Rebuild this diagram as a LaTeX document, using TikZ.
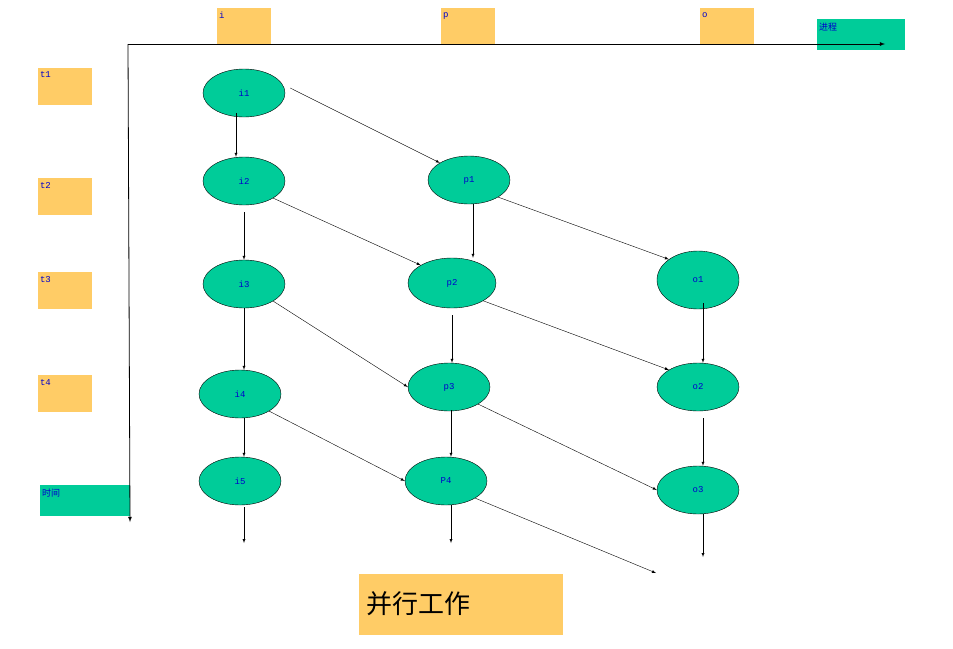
\documentclass[tikz,border=0pt]{standalone}
\usepackage{fontspec}
\setmainfont{Liberation Mono}
\newfontfamily\cjk{Noto Sans CJK SC}
\usetikzlibrary{arrows,positioning,shapes.geometric}
\definecolor{boxorange}{RGB}{255,204,102}
\definecolor{cellgreen}{RGB}{0,204,153}
\definecolor{labelblue}{RGB}{0,0,204}
\tikzset{>=latex,
    tag/.style={fill=boxorange,minimum width=54,minimum height=37,text=labelblue,
                align=left,text depth=22,inner sep=2pt,font=\small},
    gtag/.style={tag,fill=cellgreen,minimum height=31,text depth=14},
    cell/.style={ellipse,draw,fill=cellgreen,minimum width=82,minimum height=48,
                 text=labelblue,font=\small}}

\begin{document}
\begin{tikzpicture}[x=1pt,y=-1pt]
    \useasboundingbox (0,0) rectangle (953,648);
    % axes
    \coordinate (org) at (128,44);
    \coordinate (xend) at (885,44);
    \coordinate (yend) at (130,522);
    % process and time labels
    \node[tag,text width=50] (ti) at (244,26) {i};
    \node[tag,text width=50] (tp) at (468,26) {p};
    \node[tag,text width=50] (to) at (727,26) {o};
    \node[gtag,minimum width=88,text width=84] (tproc) at (861,34) {\cjk 进程};
    \node[tag,text width=50] (t1) at (65,86) {t1};
    \node[tag,text width=50] (t2) at (65,196) {t2};
    \node[tag,text width=50] (t3) at (65,290) {t3};
    \node[tag,text width=50] (t4) at (65,393) {t4};
    \node[gtag,minimum width=90,text width=86] (time) at (85,500) {\cjk 时间};
    \draw[thick,->] (org) -- (xend);
    \draw[thick,->] (org) -- (yend);
    % cells
    \node[cell] (i1) at (244,93) {i1};
    \node[cell] (i2) at (244,181) {i2};
    \node[cell] (i3) at (244,284) {i3};
    \node[cell] (i4) at (240,394) {i4};
    \node[cell] (i5) at (240,481) {i5};
    \node[cell] (p1) at (469,180) {p1};
    \node[cell,minimum width=88,minimum height=50] (p2) at (452,283) {p2};
    \node[cell] (p3) at (449,387) {p3};
    \node[cell] (p4) at (446,481) {P4};
    \node[cell,minimum height=58] (o1) at (698,280) {o1};
    \node[cell] (o2) at (698,387) {o2};
    \node[cell] (o3) at (698,490) {o3};
    \coordinate (i5out) at (244,543);
    \coordinate (p4out) at (451,543);
    \coordinate (p4diag) at (656,573);
    \coordinate (o3out) at (703,557);
    % connectors
    \draw[->] (236,113) -- (i2.north -| 236,0);
    \draw[->] (i1.east) ++(5,-5) -- (p1.north west);
    \draw[->] (244,212) -- (i3.north);
    \draw[->] (i2.south east) -- (p2.north west);
    \draw[->] (i3.south) -- (i4.north -| i3);
    \draw[->] (i3.south east) -- (p3.west);
    \draw[->] (i4.south -| i3) -- (i5.north -| i3);
    \draw[->] (i4.south east) -- (p4.west);
    \draw[->] (i5.south -| i3) ++(0,2) -- (i5out);
    \draw[->] (p1.south -| 473,0) -- (p2.north -| 473,0);
    \draw[->] (p1.south east) -- (o1.north west);
    \draw[->] (452,315) -- (p3.north -| 452,0);
    \draw[->] (p2.south east) -- (o2.north west);
    \draw[->] (451,410) -- (p4.north -| 451,0);
    \draw[->] (p3.south east) -- (o3.west);
    \draw[->] (p4.south -| 451,0) -- (p4out);
    \draw[->] (p4.south east) -- (p4diag);
    \draw[->] (703,303) -- (o2.north -| 703,0);
    \draw[->] (703,418) -- (o3.north -| 703,0);
    \draw[->] (o3.south -| 703,0) -- (o3out);
    % caption
    \node[fill=boxorange,minimum width=204,minimum height=61,font=\cjk\fontsize{26}{30}\selectfont,
          align=left,text width=190] (cap) at (461,604) {并行工作};
\end{tikzpicture}
\end{document}
